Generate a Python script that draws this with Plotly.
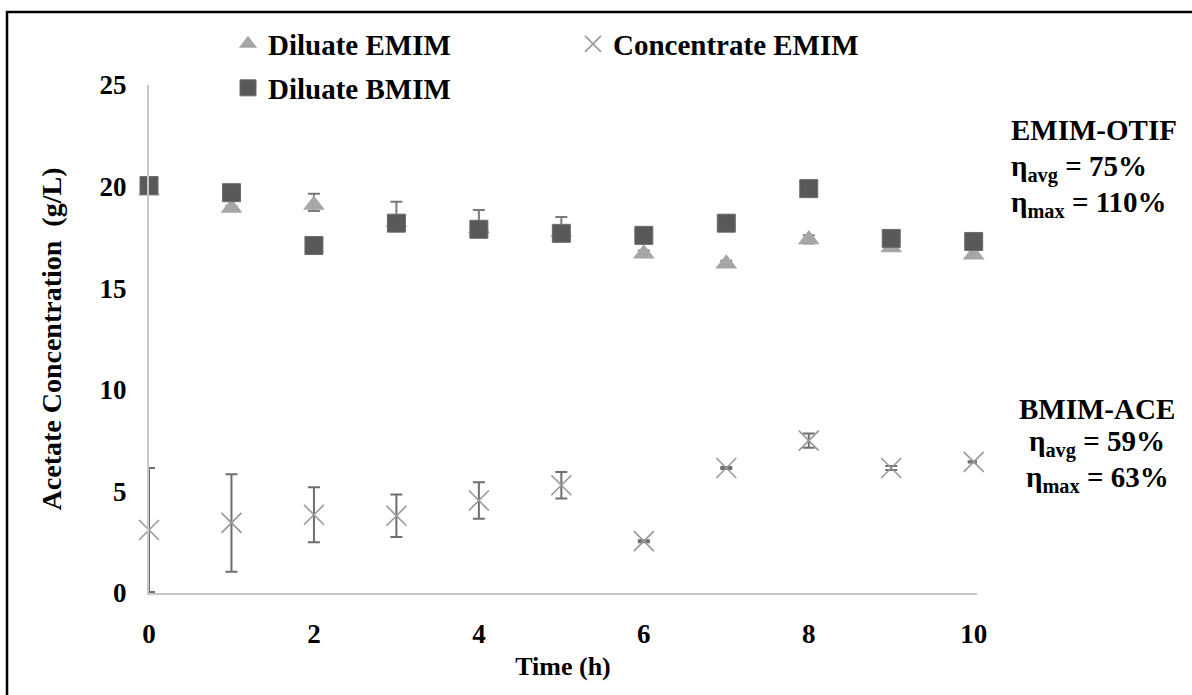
import plotly.graph_objects as go

# Sampling times (h)
time_h = [0, 1, 2, 3, 4, 5, 6, 7, 8, 9, 10]

# Acetate concentration (g/L) with upper / lower standard deviations
diluate_emim = [19.8, 18.95, 19.1, 18.25, 17.95, 17.75, 16.7, 16.2, 17.4, 17.0, 16.65]
diluate_emim_err_up = [0.1, 0.1, 0.55, 1.0, 0.9, 0.75, 0.15, 0.15, 0.2, 0.1, 0.05]
diluate_emim_err_down = [0.1, 0.1, 0.3, 0.2, 0.2, 0.2, 0.15, 0.15, 0.2, 0.1, 0.05]

concentrate_emim = [3.1, 3.45, 3.85, 3.8, 4.55, 5.3, 2.55, 6.15, 7.5, 6.15, 6.45]
concentrate_emim_err = [3.05, 2.4, 1.35, 1.05, 0.9, 0.65, 0.05, 0.05, 0.35, 0.1, 0.03]

diluate_bmim = [20.05, 19.7, 17.1, 18.2, 17.9, 17.7, 17.6, 18.2, 19.9, 17.45, 17.3]

y_ticks = [0, 5, 10, 15, 20, 25]
x_ticks = [0, 2, 4, 6, 8, 10]

# Plot-area geometry in pixels, used to place text outside the axes
W, H = 1192, 695
L, R, T, B = 149, 977, 85, 593


def px_x(x):
    return (x - L) / (R - L)


def px_y(y):
    return (B - y) / (B - T)


serif = "Liberation Serif"
fig = go.Figure()

fig.add_trace(go.Scatter(
    x=time_h, y=diluate_emim, mode="markers", name="Diluate EMIM",
    marker=dict(symbol="triangle-up", size=19, color="#a6a6a6"),
    error_y=dict(type="data", array=diluate_emim_err_up,
                 arrayminus=diluate_emim_err_down, color="#7a7a7a",
                 thickness=2, width=6),
    legend="legend", cliponaxis=False,
))
fig.add_trace(go.Scatter(
    x=time_h, y=concentrate_emim, mode="markers", name="Concentrate EMIM",
    marker=dict(symbol="x-thin", size=20, color="#999999",
                line=dict(color="#999999", width=1.6)),
    error_y=dict(type="data", array=concentrate_emim_err, color="#6e6e6e",
                 thickness=2, width=6),
    legend="legend", cliponaxis=False,
))
fig.add_trace(go.Scatter(
    x=time_h, y=diluate_bmim, mode="markers", name="Diluate BMIM",
    marker=dict(symbol="square", size=18, color="#595959",
                line=dict(color="#6a6a6a", width=1)),
    legend="legend2", cliponaxis=False,
))

axis_font = dict(family=serif, size=27, color="black", weight="bold")
legend_font = dict(family=serif, size=29, color="black", weight="bold")

fig.update_layout(
    width=W, height=H,
    margin=dict(l=L, r=W - R, t=T, b=H - B),
    paper_bgcolor="white", plot_bgcolor="white",
    font=dict(family=serif, color="black"),
    xaxis=dict(
        range=[0, 10.04], tickvals=x_ticks, ticks="", showgrid=False,
        zeroline=False, showline=True, linecolor="#c8c8c8", linewidth=2,
        tickfont=axis_font, ticklabelstandoff=16,
        title=dict(text="Time (h)", font=dict(family=serif, size=26, weight="bold"),
                   standoff=8),
    ),
    yaxis=dict(
        range=[0, 25], tickvals=y_ticks, ticks="", showgrid=False,
        zeroline=False, showline=True, linecolor="#c8c8c8", linewidth=2,
        tickfont=axis_font, ticklabelstandoff=15,
        title=dict(text="Acetate Concentration  (g/L)",
                   font=dict(family=serif, size=28, weight="bold"), standoff=30),
    ),
    legend=dict(
        orientation="h", x=px_x(228), y=px_y(44), xanchor="left", yanchor="middle",
        entrywidth=300, entrywidthmode="pixels", itemwidth=30,
        font=legend_font, bgcolor="rgba(0,0,0,0)",
    ),
    legend2=dict(
        orientation="h", x=px_x(228), y=px_y(88), xanchor="left", yanchor="middle",
        itemwidth=30,
        font=legend_font, bgcolor="rgba(0,0,0,0)",
    ),
)

# Outer frame around the figure
fig.add_shape(type="rect", xref="paper", yref="paper",
              x0=px_x(7), x1=px_x(W + 10), y0=px_y(H + 10), y1=px_y(12),
              line=dict(color="black", width=2.5), fillcolor="rgba(0,0,0,0)")

note_font = dict(family=serif, size=29, color="black", weight="bold")
emim_lines = [
    ("EMIM-OTIF", 130),
    ("η<sub>avg</sub> = 75%", 168),
    ("η<sub>max</sub> = 110%", 204),
]
for text, y in emim_lines:
    fig.add_annotation(text=text, xref="paper", yref="paper", x=px_x(1009), y=px_y(y),
                       xanchor="left", yanchor="middle", showarrow=False, font=note_font)

bmim_lines = [
    ("BMIM-ACE", 409),
    ("η<sub>avg</sub> = 59%", 443),
    ("η<sub>max</sub> = 63%", 479),
]
for text, y in bmim_lines:
    fig.add_annotation(text=text, xref="paper", yref="paper", x=px_x(1097), y=px_y(y),
                       xanchor="center", yanchor="middle", showarrow=False, font=note_font)

fig.write_html("out.html")
